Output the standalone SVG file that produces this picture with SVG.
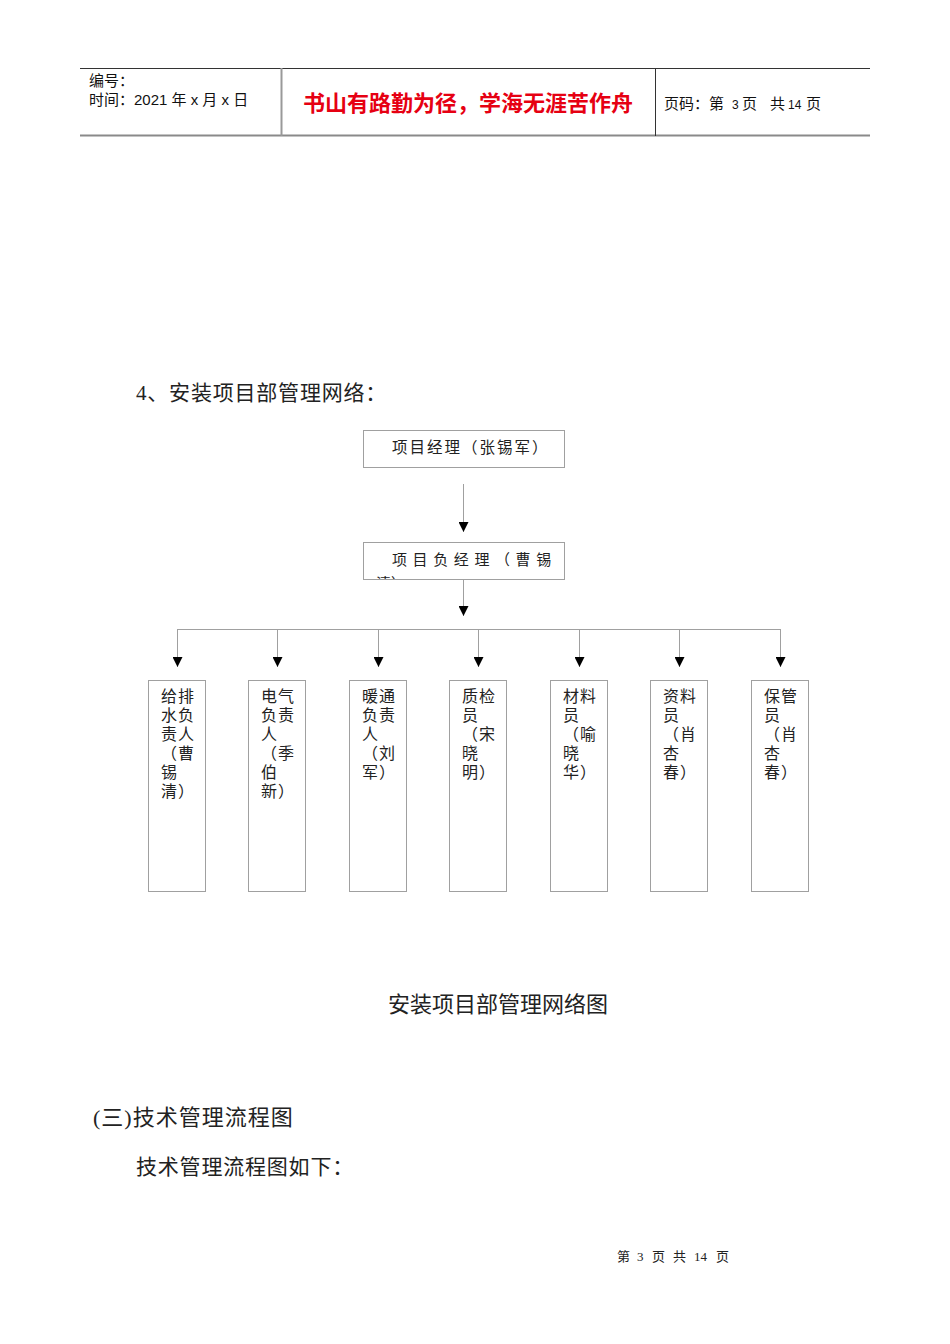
<svg xmlns="http://www.w3.org/2000/svg" width="950" height="1344" viewBox="0 0 950 1344">
<style>
text{text-spacing-trim:space-all;}
.sans{font-family:"Liberation Sans","Noto Sans CJK SC",sans-serif;}
.serif{font-family:"Liberation Serif","Noto Sans CJK SC",serif;fill:#222;}
.box{fill:#fff;stroke:#a0a0a0;stroke-width:1;}
.conn{stroke:#a0a0a0;stroke-width:1;fill:none;}
.col{font-size:16px;letter-spacing:1px;}
</style>
<defs>
<marker id="arr" viewBox="0 0 10 10" refX="10" refY="5" markerWidth="10" markerHeight="10" markerUnits="userSpaceOnUse" orient="auto">
<path d="M0,0 L10,5 L0,10 Z" fill="#000"/>
</marker>
<clipPath id="clip2"><rect x="363" y="542" width="201" height="37"/></clipPath>
</defs>
<rect width="950" height="1344" fill="#fff"/>
<g id="header">
<line x1="80" y1="68.5" x2="870" y2="68.5" stroke="#333" stroke-width="1"/>
<line x1="80" y1="135.5" x2="870" y2="135.5" stroke="#8a8a8a" stroke-width="2"/>
<line x1="281.5" y1="68" x2="281.5" y2="136" stroke="#999" stroke-width="2"/>
<line x1="655.5" y1="68" x2="655.5" y2="136" stroke="#333" stroke-width="1"/>
<text class="sans" x="89" y="86" font-size="15" fill="#111">编号：</text>
<text class="sans" x="89" y="105" font-size="15" fill="#111">时间：2021 年 x 月 x 日</text>
<text class="sans" x="468" y="111" font-size="22" fill="#e60012" text-anchor="middle" font-weight="bold">书山有路勤为径，学海无涯苦作舟</text>
<text class="sans" y="109" font-size="15" fill="#111"><tspan x="664">页码：第</tspan><tspan x="732" font-size="12">3</tspan><tspan x="742">页</tspan><tspan x="770">共</tspan><tspan x="788" font-size="12">14</tspan><tspan x="806">页</tspan></text>
</g>
<text class="serif" x="136" y="400" font-size="21" letter-spacing="0.8">4、安装项目部管理网络：</text>
<g id="connectors">
<line class="conn" x1="463.5" y1="484" x2="463.5" y2="532" marker-end="url(#arr)"/>
<line class="conn" x1="463.5" y1="579" x2="463.5" y2="616" marker-end="url(#arr)"/>
<line class="conn" x1="177" y1="629.5" x2="780" y2="629.5"/>
<line class="conn" x1="177.5" y1="629" x2="177.5" y2="667" marker-end="url(#arr)"/>
<line class="conn" x1="277.5" y1="629" x2="277.5" y2="667" marker-end="url(#arr)"/>
<line class="conn" x1="378.5" y1="629" x2="378.5" y2="667" marker-end="url(#arr)"/>
<line class="conn" x1="478.5" y1="629" x2="478.5" y2="667" marker-end="url(#arr)"/>
<line class="conn" x1="579.5" y1="629" x2="579.5" y2="667" marker-end="url(#arr)"/>
<line class="conn" x1="679.5" y1="629" x2="679.5" y2="667" marker-end="url(#arr)"/>
<line class="conn" x1="780.5" y1="629" x2="780.5" y2="667" marker-end="url(#arr)"/>
</g>
<g id="n-manager">
<rect class="box" x="363.5" y="430.5" width="201" height="37"/>
<text class="serif" x="392" y="453" font-size="15.5" letter-spacing="2">项目经理（张锡军）</text>
</g>
<g id="n-deputy">
<rect class="box" x="363.5" y="542.5" width="201" height="37"/>
<g clip-path="url(#clip2)">
<text class="serif" x="392" y="565" font-size="15" letter-spacing="5.6">项目负经理（曹锡</text>
<text class="serif" x="376" y="589" font-size="15">清）</text>
</g>
</g>
<g id="n-water">
<rect class="box" x="148.5" y="680.5" width="57" height="211"/>
<text class="serif col"><tspan x="161" y="702">给排</tspan><tspan x="161" y="721">水负</tspan><tspan x="161" y="740">责人</tspan><tspan x="161" y="759">（曹</tspan><tspan x="161" y="778">锡</tspan><tspan x="161" y="797">清）</tspan></text>
</g>
<g id="n-elec">
<rect class="box" x="248.5" y="680.5" width="57" height="211"/>
<text class="serif col"><tspan x="261" y="702">电气</tspan><tspan x="261" y="721">负责</tspan><tspan x="261" y="740">人</tspan><tspan x="261" y="759">（季</tspan><tspan x="261" y="778">伯</tspan><tspan x="261" y="797">新）</tspan></text>
</g>
<g id="n-hvac">
<rect class="box" x="349.5" y="680.5" width="57" height="211"/>
<text class="serif col"><tspan x="362" y="702">暖通</tspan><tspan x="362" y="721">负责</tspan><tspan x="362" y="740">人</tspan><tspan x="362" y="759">（刘</tspan><tspan x="362" y="778">军）</tspan></text>
</g>
<g id="n-qc">
<rect class="box" x="449.5" y="680.5" width="57" height="211"/>
<text class="serif col"><tspan x="462" y="702">质检</tspan><tspan x="462" y="721">员</tspan><tspan x="462" y="740">（宋</tspan><tspan x="462" y="759">晓</tspan><tspan x="462" y="778">明）</tspan></text>
</g>
<g id="n-material">
<rect class="box" x="550.5" y="680.5" width="57" height="211"/>
<text class="serif col"><tspan x="563" y="702">材料</tspan><tspan x="563" y="721">员</tspan><tspan x="563" y="740">（喻</tspan><tspan x="563" y="759">晓</tspan><tspan x="563" y="778">华）</tspan></text>
</g>
<g id="n-docs">
<rect class="box" x="650.5" y="680.5" width="57" height="211"/>
<text class="serif col"><tspan x="663" y="702">资料</tspan><tspan x="663" y="721">员</tspan><tspan x="663" y="740">（肖</tspan><tspan x="663" y="759">杏</tspan><tspan x="663" y="778">春）</tspan></text>
</g>
<g id="n-store">
<rect class="box" x="751.5" y="680.5" width="57" height="211"/>
<text class="serif col"><tspan x="764" y="702">保管</tspan><tspan x="764" y="721">员</tspan><tspan x="764" y="740">（肖</tspan><tspan x="764" y="759">杏</tspan><tspan x="764" y="778">春）</tspan></text>
</g>
<text class="serif" x="388" y="1012" font-size="22">安装项目部管理网络图</text>
<text class="serif" x="93" y="1125" font-size="22" letter-spacing="1">(三)技术管理流程图</text>
<text class="serif" x="136" y="1174" font-size="21" letter-spacing="0.8">技术管理流程图如下：</text>
<text class="serif" y="1261" font-size="13" fill="#444"><tspan x="617">第</tspan><tspan x="637">3</tspan><tspan x="652">页</tspan><tspan x="673">共</tspan><tspan x="694">14</tspan><tspan x="716">页</tspan></text>
</svg>
